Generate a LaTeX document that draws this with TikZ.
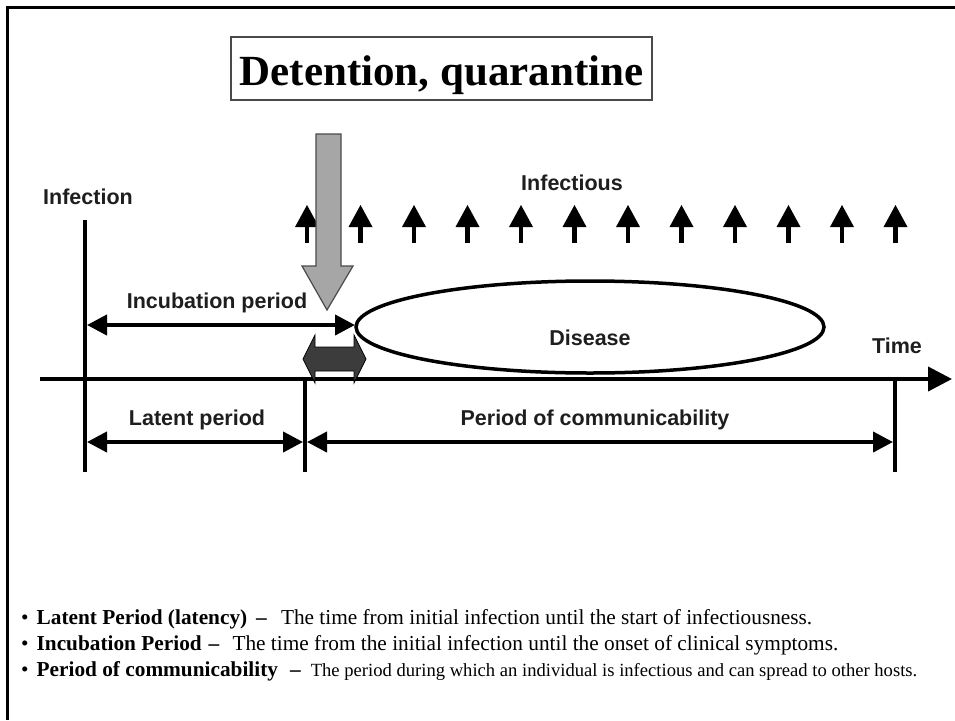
\documentclass[tikz,border=0pt]{standalone}
\usepackage{fontspec}
\setmainfont{Liberation Serif}
\newfontfamily\labelfont{Liberation Sans}
\usetikzlibrary{arrows.meta,shapes.geometric}

\definecolor{inkgray}{HTML}{1E1E1E}
\definecolor{arrowgray}{HTML}{A6A6A6}
\definecolor{arrowedge}{HTML}{4A4A4A}
\definecolor{darkfill}{HTML}{3C3C3C}

\begin{document}
\begin{tikzpicture}[x=1pt,y=-1pt,
  lbl/.style={font=\labelfont\bfseries\fontsize{21.5}{24}\selectfont, text=inkgray, inner sep=0pt, anchor=base},
  rule/.style={line width=4pt, draw=black},
  periodspan/.style={line width=4pt, draw=black,
    {Triangle[length=20pt,width=20pt]}-{Triangle[length=20pt,width=20pt]}},
  upmark/.style={fill=black},
  note/.style={font=\fontsize{21.3}{26}\selectfont, inner sep=0pt, anchor=base west},
  frameline/.style={line width=3pt, draw=black}]

\useasboundingbox (0,0) rectangle (955,720);

% slide frame (top and left edges)
\draw[frameline] (7,720) -- (7,7) -- (955,7);

% title box
\node[draw=arrowedge, line width=1.2pt, minimum width=421pt, minimum height=63pt,
      inner sep=0pt] (titlebox) at (441.5,68.5) {};
\node[anchor=base, inner sep=0pt, font=\bfseries\fontsize{43}{48}\selectfont] (title) at (441.5,85) {Detention, quarantine};

% key points of the time line
\coordinate (axisL) at (40,379);
\coordinate (axisR) at (952,379);
\coordinate (infTop) at (85,220);
\coordinate (infBot) at (85,472);
\coordinate (latTop) at (305,379);
\coordinate (latBot) at (305,472);
\coordinate (comTop) at (895,379);
\coordinate (comBot) at (895,472);
\coordinate (incA) at (87,325);
\coordinate (incB) at (355,325);
\coordinate (latA) at (87,442);
\coordinate (latB) at (303,442);
\coordinate (comA) at (307,442);
\coordinate (comB) at (893,442);

% time axis
\draw[line width=4pt, -{Triangle[length=24pt,width=24pt]}] (axisL) -- (axisR);

% vertical markers
\draw[rule] (infTop) -- (infBot);
\draw[rule] (latTop) -- (latBot);
\draw[rule] (comTop) -- (comBot);

% periods
\draw[periodspan] (incA) -- (incB);
\draw[periodspan] (latA) -- (latB);
\draw[periodspan] (comA) -- (comB);

% disease ellipse
\node[ellipse, draw=black, line width=3.5pt, minimum width=468pt, minimum height=92pt, inner sep=0pt] (disease) at (590,327) {};

% infectious marks
\foreach \k in {0,...,11} {
  \pgfmathsetmacro{\mx}{307+53.5*\k}
  \fill[upmark] (\mx-12,227) -- (\mx,205) -- (\mx+12,227) -- cycle;
  \fill[upmark] (\mx-2.4,224) rectangle (\mx+2.4,243);
}

% labels
\node[lbl, anchor=base west] (infection) at (43,204) {Infection};
\node[lbl] (infectious) at (572,190) {Infectious};
\node[lbl] (incubation) at (217,308) {Incubation period};
\node[lbl] (diseaselbl) at (590,345) {Disease};
\node[lbl] (time) at (897,353) {Time};
\node[lbl] (latent) at (197,425) {Latent period};
\node[lbl] (communicability) at (595,425) {Period of communicability};

% quarantine arrow
\draw[fill=arrowgray, draw=arrowedge, line width=1.2pt]
  (316,134) -- (341,134) -- (341,266) -- (353,266) -- (327,310) -- (302,266) -- (316,266) -- cycle;

% double-headed block arrow
\draw[fill=darkfill, draw=black, line width=0.8pt]
  (303,359) -- (315,335) -- (315,347) -- (354,347) -- (354,335) -- (366,359)
  -- (354,383) -- (354,371) -- (315,371) -- (315,383) -- cycle;

% definitions
\node[note] (def1) at (21,624) {•\hspace{8pt}\textbf{Latent Period (latency)}\hspace{9pt}\textbf{–}\hspace{14pt}The time from initial infection until the start of infectiousness.};
\node[note] (def2) at (21,650) {•\hspace{8pt}\textbf{Incubation Period}\hspace{7pt}\textbf{–}\hspace{13pt}The time from the initial infection until the onset of clinical symptoms.};
\node[note] (def3) at (21,676) {•\hspace{8pt}\textbf{Period of communicability}\hspace{12pt}\textbf{–}\hspace{10pt}{\fontsize{18.6}{22}\selectfont The period during which an individual is infectious and can spread to other hosts.}};

\end{tikzpicture}
\end{document}
